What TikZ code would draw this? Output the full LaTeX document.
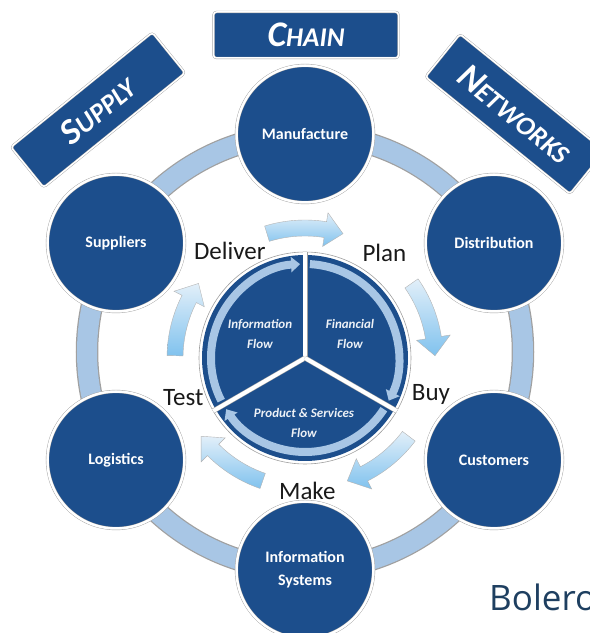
\documentclass[tikz,border=0pt]{standalone}
\usepackage{fontspec}
\setmainfont{Carlito}
\newfontfamily\bolerofont{Open Sans}
\usepackage{tikz}
\usetikzlibrary{arrows.meta}

\definecolor{navy}{HTML}{1C4E8C}
\definecolor{ringblue}{HTML}{A8C6E5}
\definecolor{rimgray}{HTML}{A0A0A0}
\definecolor{arrowlight}{HTML}{E2EFF9}
\definecolor{arrowdeep}{HTML}{80C2EE}
\definecolor{boleroblue}{HTML}{1E3F60}

\newcommand\capsword[2]{{\fontsize{36}{36}\selectfont #1}{\fontsize{27}{27}\selectfont #2}}

\tikzset{
  hub/.style={circle, fill=navy, draw=rimgray, double=white, double distance=2.5pt, minimum size=137pt, inner sep=0pt, text=white, align=center, font=\fontsize{16}{23}\selectfont\bfseries},
  banner/.style={rectangle, rounded corners=3pt, fill=navy, draw=rimgray, double=white, double distance=1.5pt, text=white, font=\bfseries\itshape},
  stage/.style={text=black!90, font=\fontsize{25}{25}\selectfont},
  flowtext/.style={text=white!92!navy, align=center, font=\fontsize{13}{20}\selectfont\bfseries\itshape},
}

\begin{document}
\begin{tikzpicture}[x=1pt,y=1pt]
        \useasboundingbox (0,0) rectangle (590,633);
        % outer ring behind the hubs
        \coordinate (ringc) at (305,281);
        \draw[rimgray, line width=22.5pt] (ringc) circle (218);
        \draw[ringblue, line width=20pt] (ringc) circle (218);
        % hubs
        \node[hub] (manufacture) at (305,499) {Manufacture};
        \node[hub] (distribution) at (494,390) {Distribution};
        \node[hub] (customers) at (494,173) {Customers};
        \node[hub] (infosys) at (305,63) {Information\\Systems};
        \node[hub] (logistics) at (116,173) {Logistics};
        \node[hub] (suppliers) at (116,390) {Suppliers};
        % banners
        \node[banner, minimum width=185pt, minimum height=46pt] (chain) at (306,598) {\capsword{C}{HAIN}};
        \node[banner, rotate=39, minimum width=182pt, minimum height=52pt] (supply) at (98,523) {\capsword{S}{UPPLY}};
        \node[banner, rotate=-39, minimum width=186pt, minimum height=55pt] (networks) at (515,519) {\capsword{N}{ETWORKS}};
        % inner pie
        \coordinate (pc) at (305,275);
        \fill[white] (pc) circle (106);
        \draw[rimgray, line width=0.6pt] (pc) circle (106);
        \fill[navy] (pc) circle (103);
        \draw[ringblue, line width=8pt, -{Triangle[length=9pt, width=15pt]}] ([shift={(207:94)}]pc) arc[start angle=207, end angle=93, radius=94];
        \draw[ringblue, line width=8pt, -{Triangle[length=9pt, width=15pt]}] ([shift={(87:94)}]pc) arc[start angle=87, end angle=-27, radius=94];
        \draw[ringblue, line width=8pt, -{Triangle[length=9pt, width=15pt]}] ([shift={(-33:94)}]pc) arc[start angle=-33, end angle=-147, radius=94];
        \foreach \s in {90,210,330}
            \draw[rimgray, line width=0.5pt, double=white, double distance=4pt] (pc) -- ([shift={(\s:106)}]pc);
        \node[flowtext] (infoflow) at (260,299) {Information\\Flow};
        \node[flowtext] (finflow) at (350,299) {Financial\\Flow};
        \node[flowtext] (prodflow) at (304,210) {Product \& Services\\Flow};
        % curved arrows round the pie
        \foreach \a in {90,18,-54,-126,162}{
            \pgfmathsetmacro\tl{\a+17}
            \pgfmathsetmacro\bs{\a-9}
            \pgfmathsetmacro\tp{\a-17}
            \shade[draw=rimgray!80, line width=0.4pt, top color=arrowlight, bottom color=arrowdeep]
                ([shift={(\tl:138)}]pc) arc[start angle=\tl, end angle=\bs, radius=138]
                -- ([shift={(\bs:147)}]pc) -- ([shift={(\tp:130)}]pc) -- ([shift={(\bs:113)}]pc)
                -- ([shift={(\bs:122)}]pc) arc[start angle=\bs, end angle=\tl, radius=122] -- cycle;
        }
        % stage labels
        \node[stage] (deliver) at ([shift={(125:131)}]pc) {Deliver};
        \node[stage] (plan) at ([shift={(53:132)}]pc) {Plan};
        \node[stage] (buy) at ([shift={(-16:131)}]pc) {Buy};
        \node[stage] (make) at ([shift={(-89:133)}]pc) {Make};
        \node[stage] (test) at ([shift={(198:128)}]pc) {Test};
        \node[anchor=base west, inner sep=0pt, text=boleroblue, font=\bolerofont\fontsize{35}{35}\selectfont] (bolero) at (489,23) {Bolero};
    \end{tikzpicture}
\end{document}
